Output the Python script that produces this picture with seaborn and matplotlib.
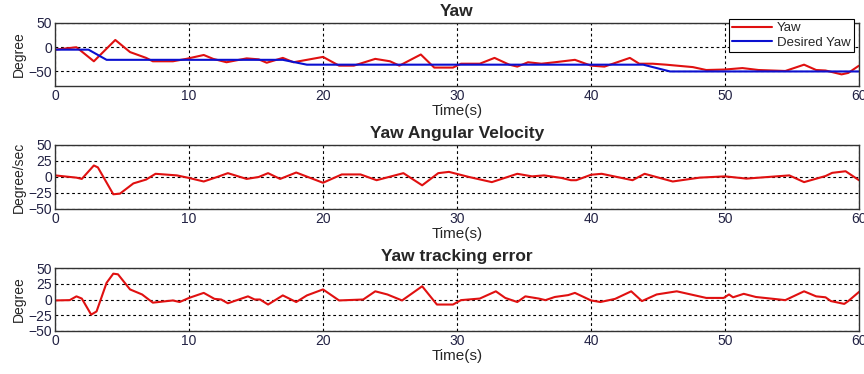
import matplotlib
matplotlib.use("Agg")
import matplotlib.pyplot as plt
import seaborn as sns
import pandas as pd

# Yaw (measured) and desired yaw, degrees
yaw_t = [0, 1.6, 2.9, 4.5, 5.6, 6.8, 7.3, 8.8, 9.8, 11.1, 11.8, 12.8, 14.3, 15.2, 15.8, 17.0,
         17.8, 18.8, 20.0, 21.2, 22.3, 23.9, 25.0, 25.7, 27.3, 28.3, 29.7, 30.3, 31.7, 32.8,
         33.9, 34.5, 35.3, 36.3, 37.3, 38.5, 38.8, 40.0, 41.0, 42.9, 43.6, 44.6, 45.6, 47.6,
         48.6, 50.0, 51.3, 52.5, 54.5, 55.9, 56.8, 57.5, 58.7, 59.2, 60.0]
yaw_v = [-5, 0, -29, 15, -10, -22, -29, -29, -24, -16, -24, -31, -23, -25, -32, -22,
         -31, -26, -20, -38, -38, -24, -29, -38, -15, -42, -42, -34, -34, -22,
         -36, -40, -31, -34, -31, -27, -26, -38, -40, -22, -34, -34, -36, -41,
         -47, -46, -43, -47, -49, -36, -47, -48, -56, -53, -38]

desired_t = [0, 2.5, 3.85, 17.0, 18.8, 43.9, 45.9, 60]
desired_v = [-5, -5, -26, -26, -36, -36, -50, -50]

# Yaw angular velocity, degree/sec
vel_t = [0, 1.6, 2.0, 2.9, 3.2, 4.35, 4.85, 5.85, 6.8, 7.5, 9.1, 10.0, 11.1, 12.1, 12.9,
         14.3, 15.2, 15.9, 16.8, 18.0, 20.0, 21.4, 22.8, 24.0, 26.0, 27.4, 28.6, 29.4,
         30.9, 32.6, 34.5, 35.6, 36.5, 37.8, 38.5, 38.9, 40.0, 40.8, 43.1, 44.0, 46.1,
         48.1, 50.0, 51.6, 54.8, 55.9, 57.5, 58.0, 59.0, 60.0]
vel_v = [2.5, -1, -3, 18, 15, -27, -26, -10, -4, 5, 2.5, -1.5, -7, 0, 6,
         -3, 0, 6, -3, 7, -9, 4, 4, -5, 6, -13, 6, 8,
         0, -8, 5, 1, 2.5, -1.5, -5, -5, 3.5, 5, -5, 5, -7,
         -1, 1, -2.5, 2.5, -8, 1.5, 6.5, 9, -5]

# Yaw tracking error, degrees
err_t = [0, 1.1, 1.6, 2.0, 2.7, 3.1, 3.85, 4.35, 4.7, 5.6, 6.5, 7.3, 8.8, 9.3, 10.0,
         11.1, 11.9, 12.4, 12.9, 14.4, 14.9, 15.3, 15.9, 17.0, 18.0, 18.8, 20.0, 21.2,
         23.0, 23.9, 24.8, 25.9, 27.4, 28.5, 29.7, 30.3, 31.7, 32.9, 33.6, 34.5, 35.1,
         36.1, 36.6, 37.3, 38.3, 38.8, 40.0, 40.7, 41.8, 43.0, 43.8, 44.9, 46.4, 48.6,
         49.9, 50.3, 50.6, 51.4, 52.3, 54.5, 55.9, 56.8, 57.5, 57.9, 58.9, 59.2, 60.0]
err_v = [-1.5, -1, 5, 1.5, -24, -19, 26.5, 41, 40, 16, 8, -5, -1.5, -4, 2.5,
         10.5, 1, 0, -6, 5, 0, 0, -8, 6.5, -4, 6.5, 16, -1.5,
         0, 13, 8, -1.5, 21, -8, -8, -1, 1.5, 13, 2.5, -4, 5,
         1.5, -1, 4, 7, 10.5, -1.5, -4, 1, 13, -2.5, 8, 13, 2.5,
         2.5, 8, 3.5, 9, 4, -1, 13, 5, 3.5, -2.5, -7, -2.5, 12]

sns.set_style("white")
plt.rcParams['font.family'] = ['Liberation Sans', 'DejaVu Sans']

fig = plt.figure(figsize=(8.64, 3.74), dpi=100)
left, width = 55 / 864, 804 / 864
ax1 = fig.add_axes([left, 1 - 86 / 374, width, 63 / 374])
ax2 = fig.add_axes([left, 1 - 209 / 374, width, 64 / 374])
ax3 = fig.add_axes([left, 1 - 331 / 374, width, 63 / 374])

red = '#e01010'
blue = '#0a10d0'

yaw_df = pd.DataFrame({'t': yaw_t, 'v': yaw_v})
des_df = pd.DataFrame({'t': desired_t, 'v': desired_v})
sns.lineplot(data=yaw_df, x='t', y='v', ax=ax1, color=red, lw=1.5, label='Yaw')
sns.lineplot(data=des_df, x='t', y='v', ax=ax1, color=blue, lw=1.5, label='Desired Yaw')
sns.lineplot(x=vel_t, y=vel_v, ax=ax2, color=red, lw=1.5)
sns.lineplot(x=err_t, y=err_v, ax=ax3, color=red, lw=1.5)

setup = [
    (ax1, 'Yaw', 'Degree', (-80, 50), [-50, 0, 50]),
    (ax2, 'Yaw Angular Velocity', 'Degree/sec', (-50, 50), [-50, -25, 0, 25, 50]),
    (ax3, 'Yaw tracking error', 'Degree', (-50, 50), [-50, -25, 0, 25, 50]),
]
for ax, title, ylab, ylim, yt in setup:
    ax.set_xlim(0, 60)
    ax.set_ylim(*ylim)
    ax.set_xticks(range(0, 61, 10))
    ax.set_yticks(yt)
    ax.grid(True, color='black', linestyle=(0, (2.5, 2.5)), lw=0.8)
    ax.set_title(title, fontsize=12.5, fontweight='bold', pad=5)
    ax.set_xlabel('Time(s)', fontsize=11, labelpad=1)
    ax.set_ylabel(ylab, fontsize=10, labelpad=2)
    ax.tick_params(axis='both', labelsize=10, direction='in', length=3,
                   colors='#222244', pad=2)
    for s in ax.spines.values():
        s.set_color('#333333')
        s.set_linewidth(1.0)

leg = ax1.legend(loc='upper right', bbox_to_anchor=(0.994, 1.065), fontsize=9.5,
                 fancybox=False, framealpha=1, edgecolor='black', borderpad=0.25,
                 borderaxespad=0, handlelength=3.0, handletextpad=0.4, labelspacing=0.15)
leg.get_frame().set_linewidth(0.8)

fig.savefig('out.png', dpi=100)
